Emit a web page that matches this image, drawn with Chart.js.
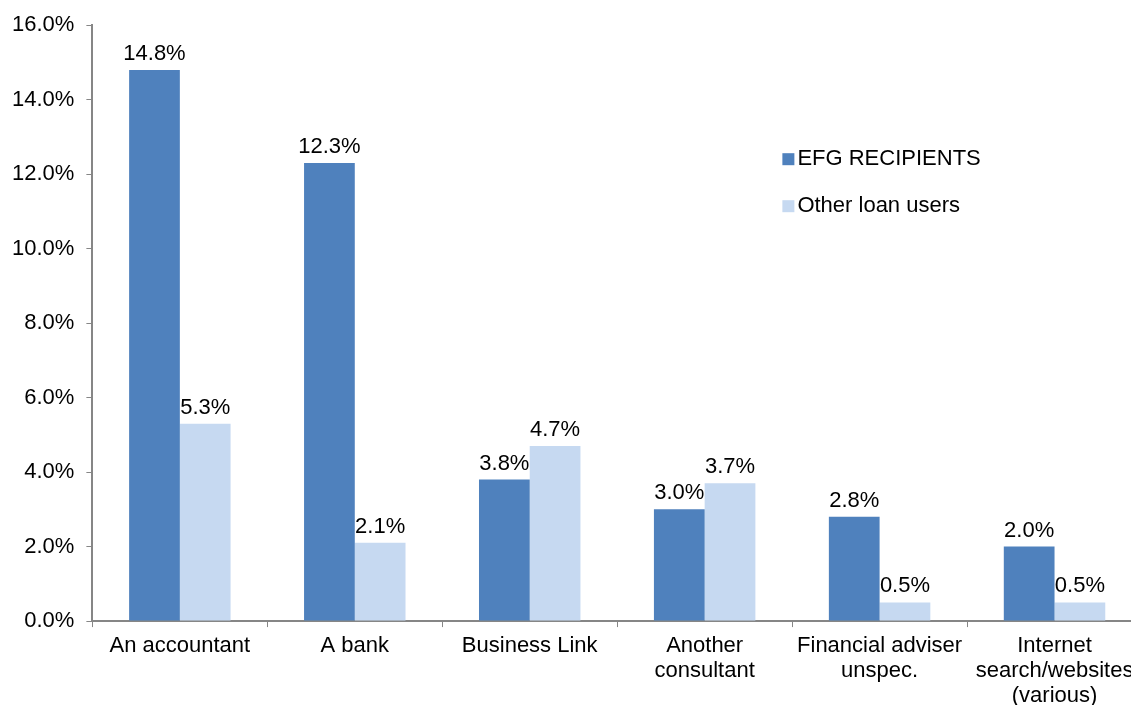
<!DOCTYPE html>
<html>
<head>
<meta charset="utf-8">
<script src="https://cdn.jsdelivr.net/npm/chart.js@4/dist/chart.umd.min.js"></script>
<style>
html,body{margin:0;padding:0;background:#fff;overflow:hidden;}
#wrap{position:relative;width:1150px;height:715px;}
</style>
</head>
<body>
<div id="wrap"><canvas id="c"></canvas></div>
<script>
const categories = [
  "An accountant",
  "A bank",
  "Business Link",
  ["Another", "consultant"],
  ["Financial adviser", "unspec."],
  ["Internet", "search/websites", "(various)"]
];
const efgRecipients = [14.8, 12.3, 3.8, 3.0, 2.8, 2.0];
const otherLoanUsers = [5.3, 2.1, 4.7, 3.7, 0.5, 0.5];
const seriesNames = ["EFG RECIPIENTS", "Other loan users"];
const yMax = 16;
const yStep = 2;

const FONT = "'Liberation Sans', Arial, sans-serif";
const FS = 22;
const colors = ["#4F81BD", "#C6D9F1"];
const axisColor = "#868686";

const labelPlugin = {
  id: 'valueLabels',
  afterDatasetsDraw(chart) {
    const ctx = chart.ctx;
    ctx.save();
    ctx.font = FS + "px " + FONT;
    ctx.fillStyle = "#000";
    ctx.textAlign = "center";
    ctx.textBaseline = "alphabetic";
    chart.data.datasets.forEach((ds, i) => {
      const meta = chart.getDatasetMeta(i);
      meta.data.forEach((bar, j) => {
        ctx.fillText(ds.data[j].toFixed(1) + "%", bar.x, bar.y - 10);
      });
    });
    ctx.restore();
  }
};

const legendPlugin = {
  id: 'customLegend',
  afterDraw(chart) {
    const ctx = chart.ctx;
    const a = chart.chartArea;
    ctx.save();
    ctx.font = FS + "px " + FONT;
    ctx.textBaseline = "middle";
    ctx.textAlign = "left";
    const x0 = a.left + 690;
    const ys = [a.top + 134, a.top + 181];
    chart.data.datasets.forEach((ds, i) => {
      ctx.fillStyle = ds.backgroundColor;
      ctx.fillRect(x0, ys[i] - 6, 12, 12);
      ctx.fillStyle = "#000";
      ctx.fillText(ds.label, x0 + 15, ys[i]);
    });
    ctx.restore();
  }
};

new Chart(document.getElementById('c'), {
  type: 'bar',
  data: {
    labels: categories,
    datasets: [
      { label: seriesNames[0], data: efgRecipients, backgroundColor: colors[0] },
      { label: seriesNames[1], data: otherLoanUsers, backgroundColor: colors[1] }
    ]
  },
  options: {
    responsive: true,
    maintainAspectRatio: false,
    animation: false,
    layout: { padding: { left: 0, right: 8, top: 11, bottom: 0 } },
    plugins: { legend: { display: false }, tooltip: { enabled: false } },
    datasets: { bar: { categoryPercentage: 0.58, barPercentage: 1.0 } },
    scales: {
      x: {
        grid: { display: true, drawOnChartArea: false, offset: true, color: axisColor, tickLength: 6, tickColor: axisColor },
        border: { color: axisColor, width: 2 },
        ticks: { color: "#000", font: { family: FONT, size: FS, lineHeight: 1.12 }, padding: 7, maxRotation: 0, autoSkip: false }
      },
      y: {
        min: 0, max: yMax,
        grid: { display: true, drawOnChartArea: false, color: axisColor, tickLength: 6, tickColor: axisColor },
        border: { color: axisColor, width: 2 },
        ticks: { stepSize: yStep, color: "#000", font: { family: FONT, size: FS }, padding: 12,
          callback: v => v.toFixed(1) + "%" }
      }
    }
  },
  plugins: [labelPlugin, legendPlugin]
});
</script>
</body>
</html>
